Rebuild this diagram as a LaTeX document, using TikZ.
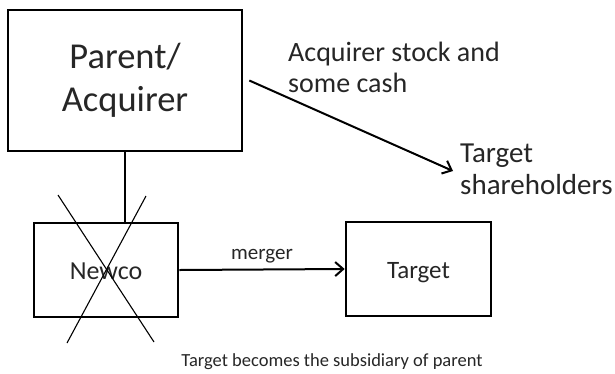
\documentclass[tikz,border=0pt]{standalone}
\usepackage{fontspec}
\setmainfont{Carlito}
\usetikzlibrary{arrows.meta}
\begin{document}
\begin{tikzpicture}[x=1pt,y=-1pt,
  boxstyle/.style={draw=black, line width=2.6pt, inner sep=0pt, align=center, text=black!85},
  conn/.style={line width=2pt},
  crossline/.style={line width=1.1pt},
  lbl/.style={inner sep=0pt, text=black!85},
  tip/.style={-{Straight Barb[length=8pt,width=14pt,line width=2pt]}}
]
\useasboundingbox (0,0) rectangle (615,373);
\node[boxstyle, minimum width=234pt, minimum height=141pt, font=\fontsize{36.5}{43}\selectfont] (parent) at (125,80.5) {Parent/\\Acquirer};
\node[boxstyle, minimum width=144pt, minimum height=94pt, text height=18pt, text depth=0pt, font=\fontsize{26}{30}\selectfont] (newco) at (106,270) {Newco};
\node[boxstyle, minimum width=145pt, minimum height=94pt, text height=18pt, text depth=0pt, font=\fontsize{25}{30}\selectfont] (target) at (418.5,269) {Target};
\node[lbl, anchor=west, align=left, font=\fontsize{28}{31}\selectfont] (stock) at (288,67.5) {Acquirer stock and\\some cash};
\node[lbl, anchor=west, align=left, font=\fontsize{29}{32}\selectfont] (sh) at (460,169) {Target\\shareholders};
\node[lbl, font=\fontsize{21}{23}\selectfont] (merger) at (262,256) {merger};
\node[lbl, font=\fontsize{18.5}{20}\selectfont] (note) at (332,362) {Target becomes the subsidiary of parent};
\draw[conn] (parent.south) -- (parent.south |- newco.north);
\draw[conn, tip] (newco.east) -- (target.west);
\draw[conn, tip] ([xshift=6pt]parent.east) -- ([xshift=-7pt,yshift=-2pt]sh.west);
\coordinate (xa1) at (58,195);
\coordinate (xa2) at (154,342);
\coordinate (xb1) at (146,196);
\coordinate (xb2) at (67,343);
\draw[crossline] (xa1) -- (xa2);
\draw[crossline] (xb1) -- (xb2);
\end{tikzpicture}
\end{document}
